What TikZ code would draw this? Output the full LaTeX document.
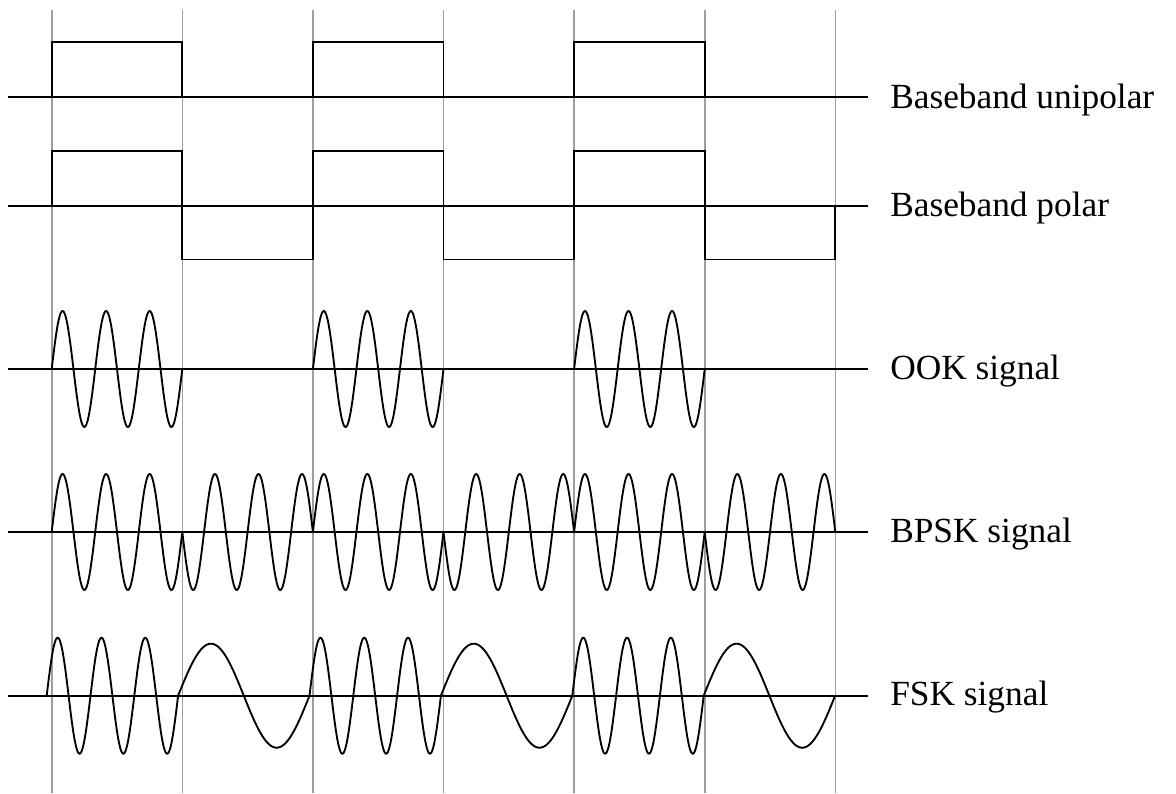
\documentclass[tikz,border=0pt]{standalone}
\usepackage{fontspec}
\setmainfont{Liberation Serif}
\begin{document}
\begin{tikzpicture}[x=0.75pt,y=-0.75pt,
  gridline/.style={draw=black!38,line width=1.2pt},
  axisline/.style={draw=black,line width=1.4pt},
  sig/.style={draw=black,line width=1.4pt,line join=miter},
  lbl/.style={anchor=base west,inner sep=0pt,font=\fontsize{26.5}{30}\selectfont}]
\useasboundingbox[fill=white] (0,0) rectangle (1176,793);
\def\bx{51.7}\def\bw{130.6}
% vertical bit boundaries
\foreach \i in {0,...,6} \draw[gridline] ({\bx+\i*\bw},9.5) -- ({\bx+\i*\bw},793);
% axes
\foreach \y in {97,206,369,532,695.7} \draw[axisline] (8,\y) -- (868,\y);
% baseband unipolar
\foreach \i in {0,2,4}
  \draw[sig] ({\bx+\i*\bw},97) -- ({\bx+\i*\bw},42.3) -- ({\bx+(\i+1)*\bw},42.3) -- ({\bx+(\i+1)*\bw},97);
% baseband polar
\draw[sig] (51.7,206) -- (51.7,151) -- (182.3,151) -- (182.3,259.5) -- (312.9,259.5) -- (312.9,151)
  -- (443.5,151) -- (443.5,259.5) -- (574.1,259.5) -- (574.1,151) -- (704.7,151) -- (704.7,259.5)
  -- (835.3,259.5) -- (835.3,206);
% OOK
\foreach \i in {0,2,4}
  \draw[sig] plot[domain=0:1,samples=160,smooth] ({\bx+(\i+\x)*\bw},{369-58*sin(1080*\x)});
% BPSK
\foreach \i/\s in {0/1,1/-1,2/1,3/-1,4/1,5/-1}
  \draw[sig] plot[domain=0:1,samples=160,smooth] ({\bx+(\i+\x)*\bw},{532-(\s)*58*sin(1080*\x)});
% FSK
\def\fx{46.7}\def\fw{131.4}
\foreach \i in {0,2,4}
  \draw[sig] plot[domain=0:1,samples=160,smooth] ({\fx+(\i+\x)*\fw},{695.7-58*sin(1080*\x)});
\foreach \i in {1,3,5}
  \draw[sig] plot[domain=0:1,samples=100,smooth] ({\fx+(\i+\x)*\fw},{695.7-52*sin(360*\x)});
% labels
\node[lbl] (lunipolar) at (890,108.3) {Baseband unipolar};
\node[lbl] (lpolar) at (890,216.6) {Baseband polar};
\node[lbl] (look) at (890,379.5) {OOK signal};
\node[lbl] (lbpsk) at (890,542.7) {BPSK signal};
\node[lbl] (lfsk) at (890,705.8) {FSK signal};
\end{tikzpicture}
\end{document}
